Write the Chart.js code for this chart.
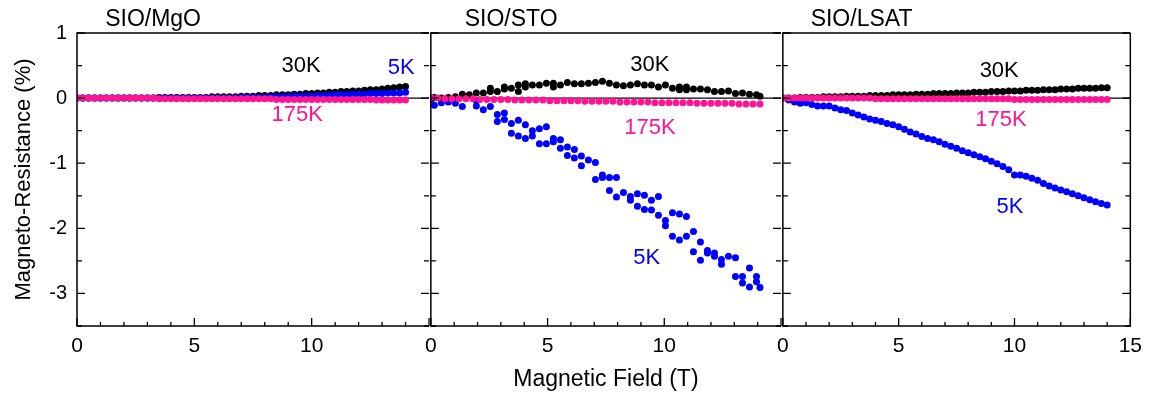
<!DOCTYPE html>
<html>
<head>
<meta charset="utf-8">
<script src="https://cdn.jsdelivr.net/npm/chart.js@4.4.1/dist/chart.umd.min.js"></script>
<style>
body { margin: 0; background: #fff; }
#wrap { position: relative; width: 1150px; height: 400px; }
canvas { position: absolute; top: 0; }
</style>
</head>
<body>
<div id="wrap">
  <canvas id="mgo" width="441" height="400" style="left:0px"></canvas>
  <canvas id="sto" width="376" height="400" style="left:417px"></canvas>
  <canvas id="lsat" width="381" height="400" style="left:769px"></canvas>
</div>
<script>
// field values (T)
const fieldGrid = [0,0.25,0.5,0.75,1,1.25,1.5,1.75,2,2.25,2.5,2.75,3,3.25,3.5,3.75,4,4.25,4.5,4.75,5,5.25,5.5,5.75,6,6.25,6.5,6.75,7,7.25,7.5,7.75,8,8.25,8.5,8.75,9,9.25,9.5,9.75,10,10.25,10.5,10.75,11,11.25,11.5,11.75,12,12.25,12.5,12.75,13,13.25,13.5,13.75,14];
const fieldSto = [0,0.3,0.6,0.9,1.2,1.5,1.8,2.1,2.4,2.7,3,3.3,3.6,3.9,4.2,4.5,4.8,5.1,5.4,5.7,6,6.3,6.6,6.9,7.2,7.5,7.8,8.1,8.4,8.7,9,9.3,9.6,9.9,10.2,10.5,10.8,11.1,11.4,11.7,12,12.3,12.6,12.9,13.2,13.5,13.8,14.1];

// SIO/MgO (%)
const mgo30K = [0,0,0,0,0,0,0,0,0,0,0,0,0,0,0.01,0.01,0.01,0.01,0.01,0.01,0.01,0.01,0.01,0.02,0.02,0.02,0.02,0.02,0.03,0.03,0.03,0.04,0.04,0.04,0.05,0.05,0.05,0.06,0.06,0.07,0.07,0.08,0.08,0.09,0.09,0.10,0.10,0.11,0.11,0.12,0.13,0.13,0.14,0.15,0.16,0.17,0.18];
const mgo5K = [0,0,0,0,0,0,0,0,0,0,0,0,0,0,0,0,0,0,0,0,0,0,0,0,0,0,0,0,0.01,0.01,0.01,0.01,0.01,0.02,0.02,0.02,0.02,0.03,0.03,0.03,0.03,0.04,0.04,0.04,0.05,0.05,0.05,0.06,0.06,0.06,0.07,0.07,0.07,0.08,0.08,0.08,0.09];
const mgo175K = [0,0,0,0,0,0,0,0,0,0,0,0,0,0,-0.01,-0.01,-0.01,-0.01,-0.01,-0.01,-0.01,-0.01,-0.01,-0.01,-0.01,-0.01,-0.01,-0.01,-0.01,-0.01,-0.01,-0.01,-0.01,-0.01,-0.02,-0.02,-0.02,-0.02,-0.02,-0.02,-0.02,-0.02,-0.02,-0.02,-0.02,-0.02,-0.02,-0.02,-0.02,-0.02,-0.02,-0.03,-0.03,-0.03,-0.03,-0.03,-0.03];

// SIO/STO (%)
const sto30KField = [0,0.15,0.45,0.75,1.05,1.35,1.65,1.95,2.25,2.55,2.55,2.85,3.15,3.15,3.45,3.75,3.75,4.05,4.05,4.35,4.65,4.95,5.25,5.25,5.55,5.85,6.15,6.45,6.75,7.05,7.35,7.65,7.95,8.25,8.55,8.85,9.15,9.45,9.75,10.05,10.35,10.65,10.65,10.95,10.95,11.25,11.55,11.85,12.15,12.45,12.75,13.05,13.35,13.65,13.95,14.1];
const sto30K = [0,0.01,0,0.01,0.02,0.06,0.05,0.08,0.08,0.15,0.10,0.10,0.17,0.14,0.15,0.20,0.10,0.22,0.17,0.20,0.20,0.23,0.23,0.17,0.20,0.24,0.22,0.22,0.23,0.24,0.26,0.23,0.20,0.19,0.20,0.22,0.20,0.20,0.17,0.20,0.15,0.17,0.13,0.17,0.13,0.14,0.14,0.13,0.10,0.10,0.11,0.07,0.08,0.06,0.05,0.03];
const sto5KField = [0,0.15,0.45,0.75,1.05,1.35,1.95,1.95,2.25,2.55,2.85,2.85,3.15,3.15,3.45,3.45,3.75,3.75,4.05,4.05,4.35,4.35,4.65,4.65,4.95,4.95,5.25,5.25,5.55,5.55,5.85,5.85,6.15,6.15,6.45,6.45,6.75,7.05,7.05,7.35,7.35,7.65,7.65,7.95,7.95,8.25,8.55,8.55,8.85,8.85,9.15,9.15,9.45,9.45,9.75,9.75,10.05,10.05,10.35,10.35,10.65,10.65,10.95,10.95,11.25,11.25,11.55,11.55,11.85,11.85,12.15,12.15,12.45,12.45,12.75,13.05,13.05,13.35,13.35,13.65,13.65,13.95,13.95,14.1];
const sto5K = [-0.03,-0.11,-0.07,-0.06,-0.08,-0.13,-0.04,-0.12,-0.18,-0.13,-0.25,-0.36,-0.23,-0.33,-0.39,-0.54,-0.34,-0.58,-0.41,-0.62,-0.50,-0.58,-0.47,-0.70,-0.44,-0.70,-0.62,-0.67,-0.64,-0.77,-0.75,-0.88,-0.79,-0.92,-0.89,-1.04,-0.95,-0.99,-1.25,-1.18,-1.22,-1.22,-1.42,-1.22,-1.52,-1.45,-1.51,-1.57,-1.47,-1.66,-1.49,-1.71,-1.57,-1.72,-1.51,-1.80,-1.88,-1.96,-1.76,-2.12,-1.78,-2.18,-1.82,-2.12,-2.05,-2.36,-2.21,-2.49,-2.34,-2.38,-2.38,-2.43,-2.48,-2.55,-2.43,-2.45,-2.74,-2.74,-2.84,-2.61,-2.90,-2.74,-2.82,-2.91];
const sto175K = [0.01,0,-0.01,-0.01,-0.01,-0.01,-0.01,-0.02,-0.02,-0.02,-0.02,-0.02,-0.03,-0.03,-0.03,-0.03,-0.03,-0.04,-0.04,-0.04,-0.04,-0.04,-0.05,-0.05,-0.05,-0.05,-0.05,-0.06,-0.06,-0.06,-0.06,-0.06,-0.07,-0.07,-0.07,-0.07,-0.07,-0.07,-0.08,-0.08,-0.08,-0.08,-0.08,-0.08,-0.09,-0.09,-0.09,-0.09];

// SIO/LSAT (%)
const lsat30K = [0,0,0,0.01,0.01,0.01,0.01,0.02,0.02,0.02,0.02,0.03,0.03,0.03,0.03,0.04,0.04,0.04,0.04,0.05,0.05,0.05,0.05,0.06,0.06,0.06,0.07,0.07,0.07,0.07,0.08,0.08,0.08,0.09,0.09,0.09,0.10,0.10,0.10,0.11,0.11,0.11,0.12,0.12,0.12,0.13,0.13,0.13,0.14,0.14,0.14,0.15,0.15,0.15,0.15,0.16,0.16];
const lsat5K = [0,-0.03,-0.06,-0.08,-0.07,-0.1,-0.12,-0.12,-0.12,-0.15,-0.18,-0.19,-0.23,-0.26,-0.29,-0.32,-0.34,-0.36,-0.39,-0.41,-0.44,-0.48,-0.52,-0.55,-0.59,-0.62,-0.64,-0.67,-0.71,-0.74,-0.77,-0.81,-0.84,-0.87,-0.9,-0.93,-0.97,-1.01,-1.05,-1.1,-1.18,-1.18,-1.2,-1.23,-1.26,-1.31,-1.35,-1.38,-1.41,-1.44,-1.47,-1.5,-1.53,-1.56,-1.59,-1.62,-1.64];
const lsat175K = [0,0,0,0,0,0,0,0,0,0,0,0,0,0,0,0,-0.01,-0.01,-0.01,-0.01,-0.01,-0.01,-0.01,-0.01,-0.01,-0.01,-0.01,-0.01,-0.01,-0.01,-0.01,-0.01,-0.01,-0.01,-0.01,-0.01,-0.01,-0.01,-0.01,-0.01,-0.02,-0.02,-0.02,-0.02,-0.02,-0.02,-0.02,-0.02,-0.02,-0.02,-0.02,-0.02,-0.02,-0.02,-0.02,-0.02,-0.02];

const xTickLabels = [0, 5, 10, 15];
const yTickLabels = [1, 0, -1, -2, -3];

const BLACK = '#000000';
const BLUE = '#0000ff';
const PINK = '#ff1493';
const FONT = "'Liberation Sans', Arial, sans-serif";

Chart.defaults.font.family = FONT;
Chart.defaults.color = '#000';

function pts(xs, ys) {
    return xs.map((x, i) => ({x: x, y: ys[i]}));
}

function series(xs, ys, color) {
    return {
        data: pts(xs, ys),
        backgroundColor: color,
        borderWidth: 0,
        pointRadius: 3.5,
        pointHoverRadius: 3.5
    };
}

// box, zero line, inward ticks and text labels
const framePlugin = {
    id: 'frame',
    beforeDatasetsDraw(chart) {
        const ctx = chart.ctx, a = chart.chartArea;
        const y0 = chart.scales.y.getPixelForValue(0);
        ctx.save();
        ctx.strokeStyle = '#000';
        ctx.lineWidth = 1.3;
        ctx.beginPath();
        ctx.moveTo(a.left, y0);
        ctx.lineTo(a.right, y0);
        ctx.stroke();
        ctx.restore();
    },
    afterDraw(chart, args, opts) {
        const ctx = chart.ctx, a = chart.chartArea;
        const x = chart.scales.x, y = chart.scales.y;
        ctx.save();
        ctx.strokeStyle = '#000';
        ctx.lineWidth = 1.5;
        ctx.beginPath();
        // left, top and bottom edge; the right edge is the next panel's left edge
        ctx.moveTo(a.right, a.top);
        ctx.lineTo(a.left, a.top);
        ctx.lineTo(a.left, a.bottom);
        ctx.lineTo(a.right, a.bottom);
        if (opts.rightEdge) ctx.lineTo(a.right, a.top);
        ctx.stroke();

        ctx.lineWidth = 1.3;
        ctx.beginPath();
        x.ticks.forEach(t => {
            const px = x.getPixelForValue(t.value);
            const len = t.value % 5 === 0 ? 8 : 4;
            ctx.moveTo(px, a.bottom);
            ctx.lineTo(px, a.bottom - len);
        });
        y.ticks.forEach(t => {
            const py = y.getPixelForValue(t.value);
            const len = Number.isInteger(t.value) ? 8 : 5;
            ctx.moveTo(a.left, py);
            ctx.lineTo(a.left + len, py);
            ctx.moveTo(a.right, py);
            ctx.lineTo(a.right - len, py);
        });
        ctx.stroke();

        (opts.labels || []).forEach(l => {
            ctx.font = l.size + 'px ' + FONT;
            ctx.fillStyle = l.color || '#000';
            ctx.textAlign = l.align || 'center';
            ctx.textBaseline = l.baseline || 'middle';
            ctx.fillText(l.text, x.getPixelForValue(l.x), y.getPixelForValue(l.y));
        });
        ctx.restore();
    }
};

function makePanel(id, datasets, cfg) {
    const ctx = document.getElementById(id).getContext('2d');
    return new Chart(ctx, {
        type: 'scatter',
        data: { datasets: datasets },
        options: {
            responsive: false,
            animation: false,
            devicePixelRatio: 1,
            layout: { padding: cfg.padding },
            plugins: {
                legend: { display: false },
                tooltip: { enabled: false },
                frame: { labels: cfg.labels, rightEdge: !!cfg.rightEdge }
            },
            scales: {
                x: {
                    type: 'linear',
                    min: 0,
                    max: 15,
                    afterFit: s => { s.height = 74; },
                    grid: { display: false, drawTicks: false },
                    border: { display: false },
                    ticks: {
                        stepSize: 1,
                        autoSkip: false,
                        maxRotation: 0,
                        padding: 8,
                        font: { size: 21 },
                        callback: v => (xTickLabels.includes(v) && !(cfg.hide15 && v === 15)) ? String(v) : ''
                    },
                    title: {
                        display: !!cfg.xTitle,
                        text: cfg.xTitle || '',
                        font: { size: 23 },
                        padding: { top: 0, bottom: 7 }
                    }
                },
                y: {
                    type: 'linear',
                    min: -3.5,
                    max: 1,
                    display: !!cfg.yAxis,
                    afterFit: s => { s.width = cfg.yAxis ? 77 : 0; },
                    grid: { display: false, drawTicks: false },
                    border: { display: false },
                    ticks: {
                        stepSize: 0.5,
                        padding: 10,
                        font: { size: 20 },
                        callback: v => yTickLabels.includes(v) ? String(v) : ''
                    },
                    title: {
                        display: true,
                        text: 'Magneto-Resistance (%)',
                        font: { size: 22 },
                        padding: { top: 11, bottom: 0 }
                    }
                }
            }
        },
        plugins: [framePlugin]
    });
}

// first dataset is drawn on top
makePanel('mgo', [
    series(fieldGrid, mgo175K, PINK),
    series(fieldGrid, mgo5K, BLUE),
    series(fieldGrid, mgo30K, BLACK)
], {
    padding: { top: 33, right: 12, left: 0, bottom: 0 },
    yAxis: true,
    hide15: true,
    labels: [
        { text: 'SIO/MgO', x: 1.2, y: 1.1, size: 23, align: 'left', baseline: 'alphabetic' },
        { text: '30K', x: 9.55, y: 0.50, size: 22, color: BLACK },
        { text: '5K', x: 13.82, y: 0.46, size: 22, color: BLUE },
        { text: '175K', x: 9.38, y: -0.26, size: 22, color: PINK }
    ]
});

makePanel('sto', [
    series(fieldSto, sto175K, PINK),
    series(sto30KField, sto30K, BLACK),
    series(sto5KField, sto5K, BLUE)
], {
    padding: { top: 33, right: 12, left: 12, bottom: 0 },
    hide15: true,
    xTitle: 'Magnetic Field (T)',
    labels: [
        { text: 'SIO/STO', x: 1.45, y: 1.1, size: 23, align: 'left', baseline: 'alphabetic' },
        { text: '30K', x: 9.38, y: 0.51, size: 22, color: BLACK },
        { text: '175K', x: 9.39, y: -0.46, size: 22, color: PINK },
        { text: '5K', x: 9.25, y: -2.45, size: 22, color: BLUE }
    ]
});

makePanel('lsat', [
    series(fieldGrid, lsat175K, PINK),
    series(fieldGrid, lsat30K, BLACK),
    series(fieldGrid, lsat5K, BLUE)
], {
    padding: { top: 33, right: 17, left: 12, bottom: 0 },
    rightEdge: true,
    labels: [
        { text: 'SIO/LSAT', x: 1.2, y: 1.1, size: 23, align: 'left', baseline: 'alphabetic' },
        { text: '30K', x: 9.34, y: 0.42, size: 22, color: BLACK },
        { text: '175K', x: 9.42, y: -0.33, size: 22, color: PINK },
        { text: '5K', x: 9.8, y: -1.67, size: 22, color: BLUE }
    ]
});
</script>
</body>
</html>
